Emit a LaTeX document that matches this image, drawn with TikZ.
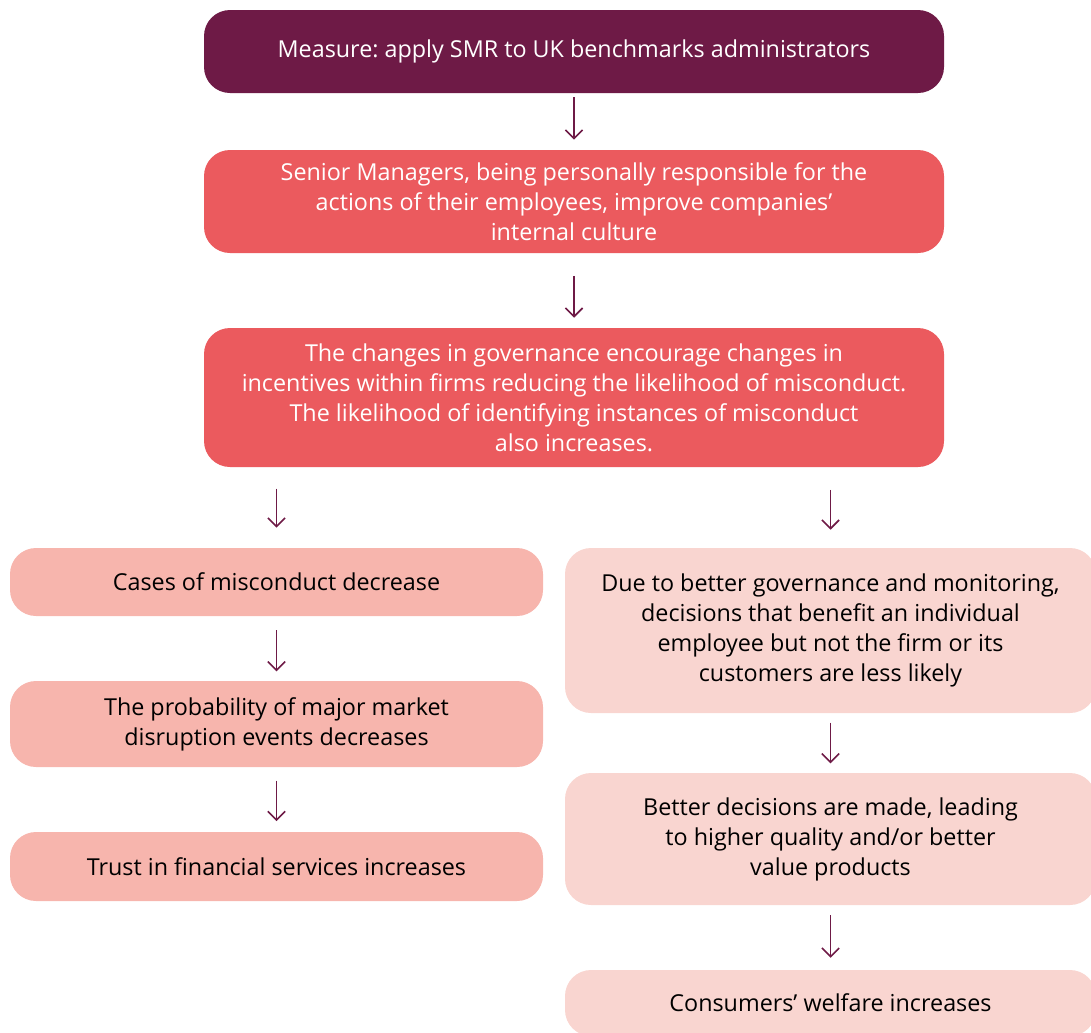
\documentclass[tikz,border=0pt]{standalone}
\usepackage{fontspec}
\setmainfont{Open Sans}
\usetikzlibrary{arrows.meta}

\definecolor{plum}{HTML}{6E1A46}
\definecolor{coral}{HTML}{EB5A5E}
\definecolor{salmon}{HTML}{F7B5AD}
\definecolor{blush}{HTML}{F9D5D0}

\tikzset{
	box/.style={rounded corners=19.5pt, inner sep=0pt, align=center,
		font=\fontsize{17.5pt}{22.5pt}\selectfont\frenchspacing},
	topbox/.style={box, fill=plum, text=white, minimum width=555pt},
	midbox/.style={box, fill=coral, text=white, minimum width=555pt},
	leftbox/.style={box, fill=salmon, text=black, minimum width=399.75pt},
	rightbox/.style={box, fill=blush, text=black, minimum width=398.25pt},
	flow/.style={draw=plum, line width=1.2pt, -{Straight Barb[length=6.5pt,width=13pt]}}
}

\begin{document}
\begin{tikzpicture}[x=0.75pt, y=-0.75pt]
	\useasboundingbox (0,0) rectangle (1091,1032);

	% main column
	\node[topbox, minimum height=62.25pt] (measure) at (574,51.5)
		{Measure: apply SMR to UK benchmarks administrators};
	\node[midbox, minimum height=77.25pt] (managers) at (574,201.5)
		{Senior Managers, being personally responsible for the\\
		actions of their employees, improve companies’\\
		internal culture};
	\node[midbox, minimum height=104.25pt] (governance) at (574,397.5)
		{The changes in governance encourage changes in\\
		incentives within firms reducing the likelihood of misconduct.\\
		The likelihood of identifying instances of misconduct\\
		also increases.};

	% left column
	\node[leftbox, minimum height=51pt] (cases) at (276.5,582)
		{Cases of misconduct decrease};
	\node[leftbox, minimum height=64.5pt] (disruption) at (276.5,724)
		{The probability of major market\\
		disruption events decreases};
	\node[leftbox, minimum height=51.75pt] (trust) at (276.5,866.5)
		{Trust in financial services increases};

	% right column
	\node[rightbox, minimum height=123.75pt] (decisions) at (830.5,630.5)
		{Due to better governance and monitoring,\\
		decisions that benefit an individual\\
		employee but not the firm or its\\
		customers are less likely};
	\node[rightbox, minimum height=99pt] (products) at (830.5,839)
		{Better decisions are made, leading\\
		to higher quality and/or better\\
		value products};
	\node[rightbox, minimum height=49.5pt] (welfare) at (830.5,1003)
		{Consumers’ welfare increases};

	% arrows
	\draw[flow, shorten <=3pt, shorten >=7.5pt] (measure) -- (managers);
	\draw[flow, shorten <=17pt, shorten >=7.5pt] (managers) -- (governance);
	\draw[flow, shorten <=16pt, shorten >=15pt] (governance.south -| cases) -- (cases);
	\draw[flow, shorten <=17pt, shorten >=13.5pt] (governance.south -| decisions) -- (decisions);
	\draw[flow, shorten <=10.5pt, shorten >=7pt] (cases) -- (disruption);
	\draw[flow, shorten <=10pt, shorten >=8pt] (disruption) -- (trust);
	\draw[flow, shorten <=7pt, shorten >=7pt] (decisions) -- (products);
	\draw[flow, shorten <=7.5pt, shorten >=9pt] (products) -- (welfare);
\end{tikzpicture}
\end{document}
